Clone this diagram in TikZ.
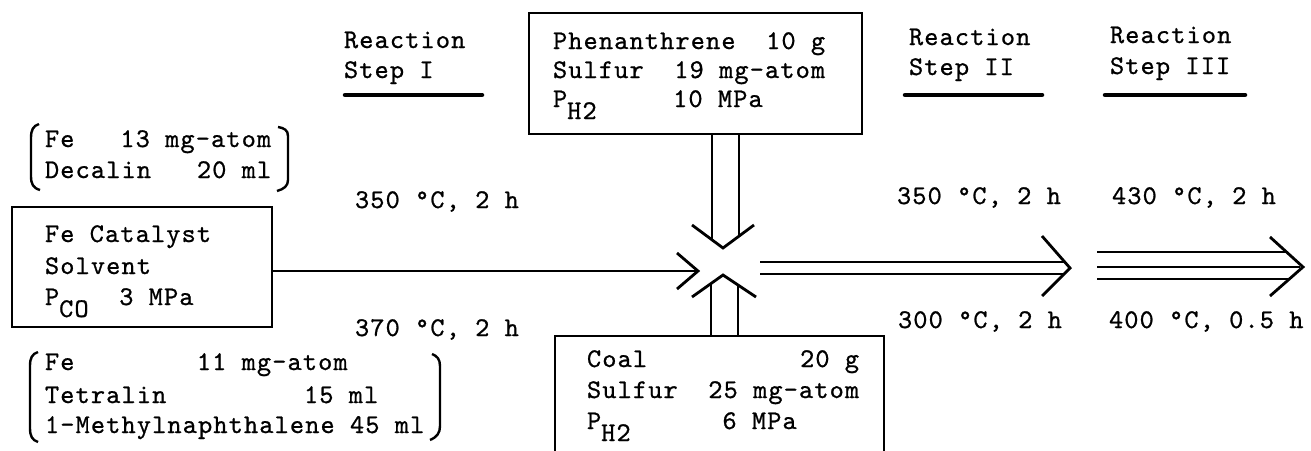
\documentclass[tikz,border=0pt]{standalone}
\usepackage{fontspec}
\setmonofont{lmmono10-regular.otf}[LetterSpace=4.2,FakeBold=0.8]
\usetikzlibrary{calc}
\newcommand\lowsub[1]{\raisebox{-12pt}{#1}}
\newcommand\monoset{\ttfamily\fontsize{27}{30}\selectfont\fontdimen2\font=15.3pt\relax}
\begin{document}
\frenchspacing
\begin{tikzpicture}[x=1pt,y=-1pt,
  every node/.style={inner sep=0pt, outer sep=0pt},
  txt/.style={anchor=base west, font=\monoset},
  box/.style={draw, line width=2.6pt, anchor=north west, inner sep=0pt},
  conn/.style={line width=2.8pt, line join=miter},
  uline/.style={line width=4.5pt, line cap=round},
  brk/.style={line width=2.4pt}]
\useasboundingbox (0,0) rectangle (1311,450);

% boxes
\node[box, minimum width=260pt, minimum height=120pt] (lbox) at (12,207) {};
\node[box, minimum width=333pt, minimum height=121pt] (phen) at (529,13) {};
\node[box, minimum width=329pt, minimum height=140pt] (coal) at (555,336) {};

% left box text
\node[txt] (l1) at (45,242) {Fe Catalyst};
\node[txt] (l2) at (45,274) {Solvent};
\node[txt] (l3) at (45,305) {P\lowsub{CO}~~3 MPa};

% top box text
\node[txt] (p1) at (553,49) {Phenanthrene~~10 g};
\node[txt] (p2) at (553,78) {Sulfur~~19 mg-atom};
\node[txt] (p3) at (553,107) {P\lowsub{H2}~~~~~10 MPa};

% bottom box text
\node[txt] (c1) at (587,367) {Coal~~~~~~~~~~20 g};
\node[txt] (c2) at (587,398) {Sulfur~~25 mg-atom};
\node[txt] (c3) at (587,429) {P\lowsub{H2}~~~~~~6 MPa};

% bracket groups
\node[txt] (a1) at (45,147) {Fe~~~13 mg-atom};
\node[txt] (a2) at (45,178) {Decalin~~~20 ml};
\draw[brk] (39,124) .. controls (33,126) and (31,130) .. (31,138) -- (31,176) .. controls (31,184) and (33,188) .. (40,190);
\draw[brk] (278,127) .. controls (284,128) and (288,130) .. (288,136) -- (288,180) .. controls (288,186) and (284,189) .. (277,191);

\node[txt] (b1) at (45,370) {Fe~~~~~~~~11 mg-atom};
\node[txt] (b2) at (45,403) {Tetralin~~~~~~~~~15 ml};
\node[txt] (b3) at (45,433) {1-Methylnaphthalene 45 ml};
\draw[brk] (38,352) .. controls (32,354) and (30,358) .. (30,366) -- (30,428) .. controls (30,436) and (32,440) .. (38,442);
\draw[brk] (432,354) .. controls (437,356) and (440,359) .. (440,366) -- (440,426) .. controls (440,433) and (437,437) .. (430,440);

% step labels
\node[txt] (s1a) at (344,48) {Reaction};
\node[txt] (s1b) at (344,78) {Step I};
\draw[uline] (345,95) -- (482,95);
\node[txt] (s2a) at (909,45) {Reaction};
\node[txt] (s2b) at (909,75) {Step II};
\draw[uline] (905,95) -- (1042,95);
\node[txt] (s3a) at (1110,43) {Reaction};
\node[txt] (s3b) at (1110,74) {Step III};
\draw[uline] (1105,95) -- (1245,95);

% conditions
\node[txt] (t1) at (355,208) {350 °C, 2 h};
\node[txt] (t2) at (355,336) {370 °C, 2 h};
\node[txt] (t3) at (897,204) {350 °C, 2 h};
\node[txt] (t4) at (1112,204) {430 °C, 2 h};
\node[txt] (t5) at (898,328) {300 °C, 2 h};
\node[txt] (t6) at (1109,328) {400 °C, 0.5 h};

% connectors
\coordinate (hub) at (723,271);
\coordinate (tipL) at (698,271);
\draw[conn] (lbox.east |- hub) -- (tipL);
\draw[conn] (677,253) -- (tipL) -- (677,289);

\coordinate (tipD) at (723,248);
\draw[conn] (phen.south -| 712,0) -- (712,240);
\draw[conn] (phen.south -| 739,0) -- (739,236);
\draw[conn] (692,225) -- (tipD) -- (754,225);

\coordinate (tipU) at (723,275);
\draw[conn] (coal.north -| 711,0) -- (711,284);
\draw[conn] (coal.north -| 738,0) -- (738,285);
\draw[conn] (692,297) -- (tipU) -- (756,297);

\coordinate (tip2) at (1070,268);
\draw[conn] (760,262) -- (1065,262);
\draw[conn] (760,274) -- (1063,274);
\draw[conn] (1042,236) -- (tip2) -- (1042,296);

\coordinate (tip3) at (1303,267);
\draw[conn] (1097,252) -- (1286,252);
\draw[conn] (1097,267) -- (1300,267);
\draw[conn] (1097,279) -- (1289,279);
\draw[conn] (1270,237) -- (tip3) -- (1270,296);
\end{tikzpicture}
\end{document}
